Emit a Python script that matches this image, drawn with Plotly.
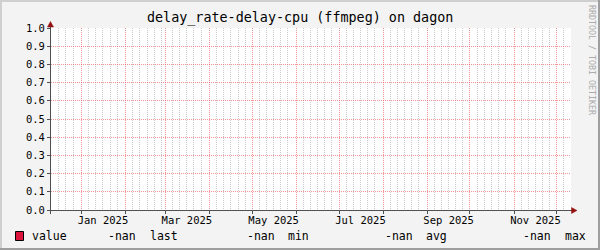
import plotly.graph_objects as go
import pandas as pd

# ---------------- data ----------------
title_text = "delay_rate-delay-cpu (ffmpeg) on dagon"
x_start = "2024-12-10 12:00"
x_end = "2025-12-11 00:00"
sample_times = [d.strftime("%Y-%m-%d") for d in pd.date_range("2024-12-11", "2025-12-10", freq="D")]
series_values = [None] * len(sample_times)          # every sample is NaN
series_name = "value"
stat_names = ["last", "min", "avg", "max"]
stat_values = ["-nan", "-nan", "-nan", "-nan"]

month_starts = ["2025-01-01", "2025-02-01", "2025-03-01", "2025-04-01", "2025-05-01", "2025-06-01",
                "2025-07-01", "2025-08-01", "2025-09-01", "2025-10-01", "2025-11-01", "2025-12-01"]
label_dates = ["2025-01-16", "2025-03-16", "2025-05-16", "2025-07-16", "2025-09-16", "2025-11-16"]
label_texts = ["Jan 2025", "Mar 2025", "May 2025", "Jul 2025", "Sep 2025", "Nov 2025"]
minor_days = [6, 11, 16, 21, 26]
y_ticks = [0.0, 0.1, 0.2, 0.3, 0.4, 0.5, 0.6, 0.7, 0.8, 0.9, 1.0]
y_labels = ["%.1f" % v for v in y_ticks]
watermark = "RRDTOOL / TOBI OETIKER"

# minor grid dates (every 5 days within each month)
minor_grid = ["2024-12-%02d" % d for d in [11, 16, 21, 26]]
for m in range(1, 13):
    for d in minor_days:
        minor_grid.append("2025-%02d-%02d" % (m, d))

# ---------------- layout geometry ----------------
W, H = 600, 250
L, R, T, B = 51, 571, 28, 210
MONO = "DejaVu Sans Mono"
SERIES_COLOR = "#DC143C"
MAJOR = "rgba(232,80,80,0.6)"
MINOR = "rgba(150,150,150,0.5)"
AXIS = "#505050"
ARROW = "#941010"


def px(xp):
    return (xp - L) / (R - L)


def py(yp):
    return (B - yp) / (B - T)


fig = go.Figure()
fig.add_trace(go.Scatter(x=sample_times, y=series_values, mode="lines", name=series_name,
                         line=dict(color=SERIES_COLOR, width=1), showlegend=False, hoverinfo="skip"))
fig.add_trace(go.Scatter(x=sample_times, y=series_values, xaxis="x2", mode="lines",
                         showlegend=False, hoverinfo="skip"))

shapes = []
# outer 3D frame
shapes.append(dict(type="line", xref="paper", yref="paper", x0=px(0), x1=px(600), y0=py(1), y1=py(1),
                   line=dict(color="#CFCFCF", width=2)))
shapes.append(dict(type="line", xref="paper", yref="paper", x0=px(1), x1=px(1), y0=py(0), y1=py(250),
                   line=dict(color="#CFCFCF", width=2)))
shapes.append(dict(type="line", xref="paper", yref="paper", x0=px(0), x1=px(600), y0=py(249), y1=py(249),
                   line=dict(color="#9E9E9E", width=2)))
shapes.append(dict(type="line", xref="paper", yref="paper", x0=px(599), x1=px(599), y0=py(0), y1=py(250),
                   line=dict(color="#9E9E9E", width=2)))
# axes
shapes.append(dict(type="line", xref="paper", yref="paper", x0=px(47), x1=px(573), y0=py(210.5), y1=py(210.5),
                   line=dict(color=AXIS, width=1), layer="above"))
shapes.append(dict(type="line", xref="paper", yref="paper", x0=px(50.5), x1=px(50.5), y0=py(214), y1=py(24),
                   line=dict(color=AXIS, width=1), layer="above"))
# arrows
shapes.append(dict(type="path", xref="paper", yref="paper", layer="above",
                   path="M %f %f L %f %f L %f %f Z" % (px(571.5), py(207.5), px(577), py(210.5), px(571.5), py(213.5)),
                   fillcolor=ARROW, line=dict(color=ARROW, width=0.5)))
shapes.append(dict(type="path", xref="paper", yref="paper", layer="above",
                   path="M %f %f L %f %f L %f %f Z" % (px(47.5), py(27), px(50.5), py(21.5), px(53.5), py(27)),
                   fillcolor=ARROW, line=dict(color=ARROW, width=0.5)))
# legend swatch
shapes.append(dict(type="rect", xref="paper", yref="paper", x0=px(15.5), x1=px(23.5), y0=py(231.5), y1=py(240.5),
                   fillcolor=SERIES_COLOR, line=dict(color="#000000", width=1)))

annotations = []
annotations.append(dict(text=title_text, xref="paper", yref="paper", x=px(300), y=py(18.5),
                        xanchor="center", yanchor="middle", showarrow=False,
                        font=dict(family=MONO, size=13.4, color="#000000")))
annotations.append(dict(text=watermark, xref="paper", yref="paper", x=px(592), y=py(60),
                        xanchor="center", yanchor="middle", showarrow=False, textangle=90,
                        font=dict(family=MONO, size=8.3, color="#ABABAB")))
# legend row
ADV = 6.92
legend_tokens = [(series_name, 0)]
cols = [11, 17, 31, 37, 51, 57, 71, 77]
k = 0
for sv, sn in zip(stat_values, stat_names):
    legend_tokens.append((sv, cols[k]))
    legend_tokens.append((sn, cols[k + 1]))
    k += 2
for tok, col in legend_tokens:
    annotations.append(dict(text=tok, xref="paper", yref="paper", x=px(30 + col * ADV), y=py(236),
                            xanchor="left", yanchor="middle", showarrow=False,
                            font=dict(family=MONO, size=11.5, color="#000000")))

fig.update_layout(
    width=W, height=H, autosize=False,
    margin=dict(l=L, r=W - R, t=T, b=H - B, pad=0),
    paper_bgcolor="#F3F3F3", plot_bgcolor="#FFFFFF",
    showlegend=False,
    xaxis=dict(type="date", range=[x_start, x_end], tickmode="array", tickvals=month_starts,
               showticklabels=False, ticks="outside", ticklen=3, tickcolor=AXIS, tickwidth=1,
               showgrid=True, gridcolor=MAJOR, griddash="1px,1px", gridwidth=1,
               minor=dict(tickmode="array", tickvals=minor_grid, showgrid=True, gridcolor=MINOR,
                          griddash="1px,1px", gridwidth=1, ticks=""),
               showline=False, zeroline=False, fixedrange=True),
    xaxis2=dict(type="date", range=[x_start, x_end], overlaying="x", anchor="y", side="bottom",
                tickmode="array", tickvals=label_dates, ticktext=label_texts, ticks="",
                ticklabelstandoff=2,
                showgrid=False, showline=False, zeroline=False,
                tickfont=dict(family=MONO, size=10.5, color="#000000"), fixedrange=True),
    yaxis=dict(range=[0, 1], tickmode="array", tickvals=y_ticks, ticktext=y_labels,
               ticks="outside", ticklen=3, tickcolor=AXIS, tickwidth=1,
               showgrid=True, gridcolor=MAJOR, griddash="1px,1px", gridwidth=1,
               showline=False, zeroline=False,
               tickfont=dict(family=MONO, size=10.5, color="#000000"), fixedrange=True),
    shapes=shapes, annotations=annotations,
)

crisp_css = (
    "var s=document.createElement('style');"
    "s.textContent='.gridlayer path, .minor-gridlayer path, path.xtick, path.ytick "
    "{shape-rendering:crispEdges !important;}';"
    "document.head.appendChild(s);"
)
fig.write_html("out.html", config={"displayModeBar": False, "staticPlot": True}, post_script=crisp_css)
